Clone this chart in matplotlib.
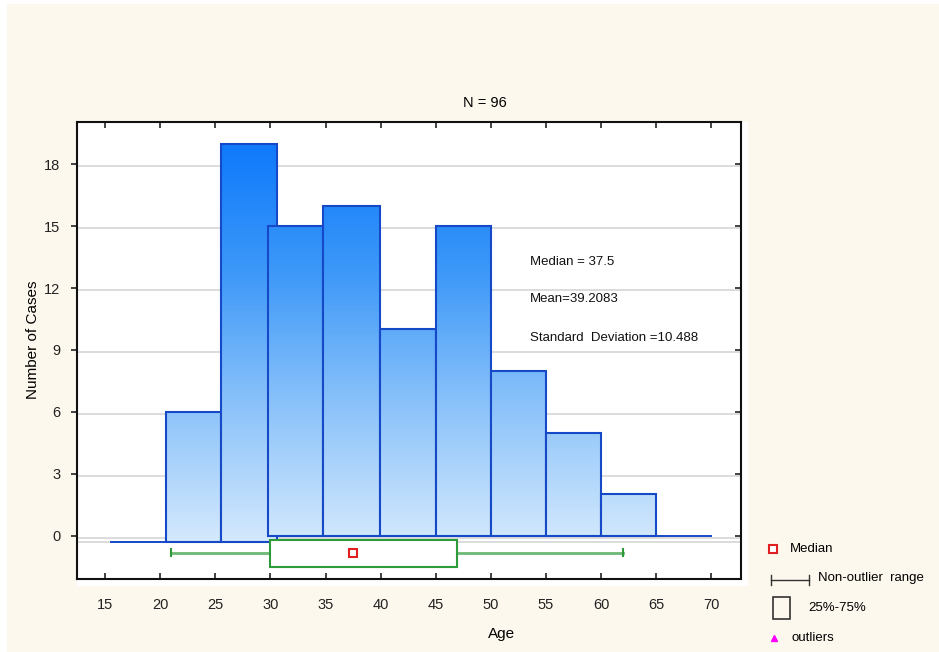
import numpy as np
import matplotlib
matplotlib.use("Agg")
import matplotlib.pyplot as plt
from matplotlib.patches import Rectangle
from matplotlib.colors import LinearSegmentedColormap
from matplotlib.lines import Line2D

plt.rcParams['font.family'] = ['Liberation Sans', 'DejaVu Sans']

# ---- data ----
bin_lefts = [20.5, 25.5, 29.8, 34.8, 39.9, 45.0, 50.0, 55.0, 60.0]
bin_rights = [25.5, 30.6, 34.8, 39.9, 45.0, 50.0, 55.0, 60.0, 65.0]
counts = [6, 19, 15, 16, 10, 15, 8, 5, 2]
bar_bottoms = [-0.3, -0.3, 0, 0, 0, 0, 0, 0, 0]
x_ticks = [15, 20, 25, 30, 35, 40, 45, 50, 55, 60, 65, 70]
y_ticks = [0, 3, 6, 9, 12, 15, 18]
whisker_low, q1, median, q3, whisker_high = 21.0, 30.0, 37.5, 46.9, 62.0
stats_text = ["Median = 37.5", "Mean=39.2083", "Standard  Deviation =10.488"]
title = "N = 96"

W, H = 939, 652
fig = plt.figure(figsize=(W / 100, H / 100), dpi=100)
fig.patch.set_facecolor('#fdf8ee')
fig.patches.append(Rectangle((0, 1 - 4 / H), 1, 4 / H, transform=fig.transFigure,
                             facecolor='white', edgecolor='none', zorder=-2))
fig.patches.append(Rectangle((0, 0), 7 / W, 1, transform=fig.transFigure,
                             facecolor='white', edgecolor='none', zorder=-2))
fig.patches.append(Rectangle((77 / W, 1 - 586 / H), (748 - 77) / W, (586 - 122) / H,
                             transform=fig.transFigure, facecolor='white',
                             edgecolor='none', zorder=-2))

ax_l, ax_r, ax_t, ax_b = 77, 741, 122, 579
ax = fig.add_axes([ax_l / W, 1 - ax_b / H, (ax_r - ax_l) / W, (ax_b - ax_t) / H])
ax.set_zorder(1)
ax.set_facecolor('white')

# gridlines
for yv in y_ticks:
    ax.axhline(yv - 0.1, color='#d6d6d6', lw=1.2, zorder=0.5)
ax.axhline(-0.3, color='#d6d6d6', lw=1.2, zorder=0.5)

# gradient bars
cmap = LinearSegmentedColormap.from_list('g', ['#d4e9fd', '#8cc3fa', '#3d98f8', '#0c78fb'])
grad = np.linspace(0, 1, 256).reshape(-1, 1)
edge = '#1549c8'
for i, (l, r, c, b) in enumerate(zip(bin_lefts, bin_rights, counts, bar_bottoms)):
    im = ax.imshow(grad, extent=(l, r, -0.3, 19.3), origin='lower', cmap=cmap,
                   aspect='auto', zorder=2 + i * 0.01, interpolation='bilinear')
    rect = Rectangle((l, b), r - l, c - b, facecolor='none', edgecolor=edge,
                     lw=1.5, zorder=2.005 + i * 0.01)
    ax.add_patch(rect)
    im.set_clip_path(rect)
ax.set_xlim(12.45, 72.7)
ax.set_ylim(-2.1, 20.05)

# baseline
ax.plot([15.5, bin_rights[1]], [-0.3, -0.3], color=edge, lw=1.4, zorder=3)
ax.plot([bin_lefts[2], 70], [0, 0], color=edge, lw=1.4, zorder=3)

# box plot
green = '#2f9a3a'
ax.plot([whisker_low, q1], [-0.83, -0.83], color=green, lw=2, alpha=0.7, zorder=4)
ax.plot([q3, whisker_high], [-0.83, -0.83], color=green, lw=2, alpha=0.7, zorder=4)
for xv in (whisker_low, whisker_high):
    ax.plot([xv, xv], [-1.0, -0.66], color=green, lw=1.5, zorder=4)
ax.add_patch(Rectangle((q1, -1.5), q3 - q1, 1.3, facecolor='white', edgecolor=green,
                       lw=1.5, zorder=4))
ax.plot([median], [-0.83], marker='s', ms=5.5, mfc='white', mec='#e02020', mew=1.5,
        zorder=5, ls='none')

# ticks
ax.set_xticks(x_ticks)
ax.set_xticklabels([str(v) for v in x_ticks])
ax.set_yticks(y_ticks)
ax.set_yticklabels([str(v) for v in y_ticks])
ax.tick_params(axis='x', direction='in', top=True, bottom=True, length=4, width=1.2,
               labelsize=10.5, pad=14, colors='#222222')
ax.tick_params(axis='y', direction='out', right=True, length=4, width=1.2, labelsize=10.5,
               pad=8, colors='#222222')
for tl in ax.yaxis.get_major_ticks():
    tl.tick2line.set_marker(matplotlib.markers.TICKLEFT)
for sp in ax.spines.values():
    sp.set_linewidth(1.5)
    sp.set_color('#111111')

fig.text(502 / W, 1 - 634 / H, 'Age', fontsize=11, ha='center', va='center')
fig.text(33 / W, 1 - 340 / H, 'Number of Cases', fontsize=11, ha='center', va='center',
         rotation=90)

fig.text(485 / W, 1 - 103 / H, title, fontsize=10.5, ha='center', va='center')

for t, yp in zip(stats_text, [262, 299, 338]):
    fig.text(530 / W, 1 - yp / H, t, fontsize=9.5, ha='left', va='center', color='#111111',
             zorder=5)

# custom legend
def fx(px):
    return px / W

def fy(py):
    return 1 - py / H

fig.add_artist(Line2D([fx(773)], [fy(549)], marker='s', ms=5.5, mfc='white', mec='#e02020',
                      mew=1.5, transform=fig.transFigure, ls='none'))
fig.text(fx(790), fy(549), 'Median', fontsize=9.5, va='center')
fig.add_artist(Line2D([fx(771), fx(809)], [fy(580), fy(580)], color='#333333', lw=1,
                      transform=fig.transFigure))
for xp in (771, 809):
    fig.add_artist(Line2D([fx(xp), fx(xp)], [fy(575), fy(585)], color='#333333', lw=1,
                          transform=fig.transFigure))
fig.text(fx(818), fy(578), 'Non-outlier  range', fontsize=9.5, va='center')
fig.patches.append(Rectangle((fx(773), fy(619)), 17 / W, 22 / H, transform=fig.transFigure,
                             facecolor='none', edgecolor='#333333', lw=1.2))
fig.text(fx(808), fy(608), '25%-75%', fontsize=9.5, va='center')
fig.add_artist(Line2D([fx(774)], [fy(638)], marker='^', ms=4.5, color='#ff00ff',
                      transform=fig.transFigure, ls='none'))
fig.text(fx(792), fy(638), 'outliers', fontsize=9.5, va='center')

fig.savefig('out.png', dpi=100, facecolor=fig.get_facecolor())
